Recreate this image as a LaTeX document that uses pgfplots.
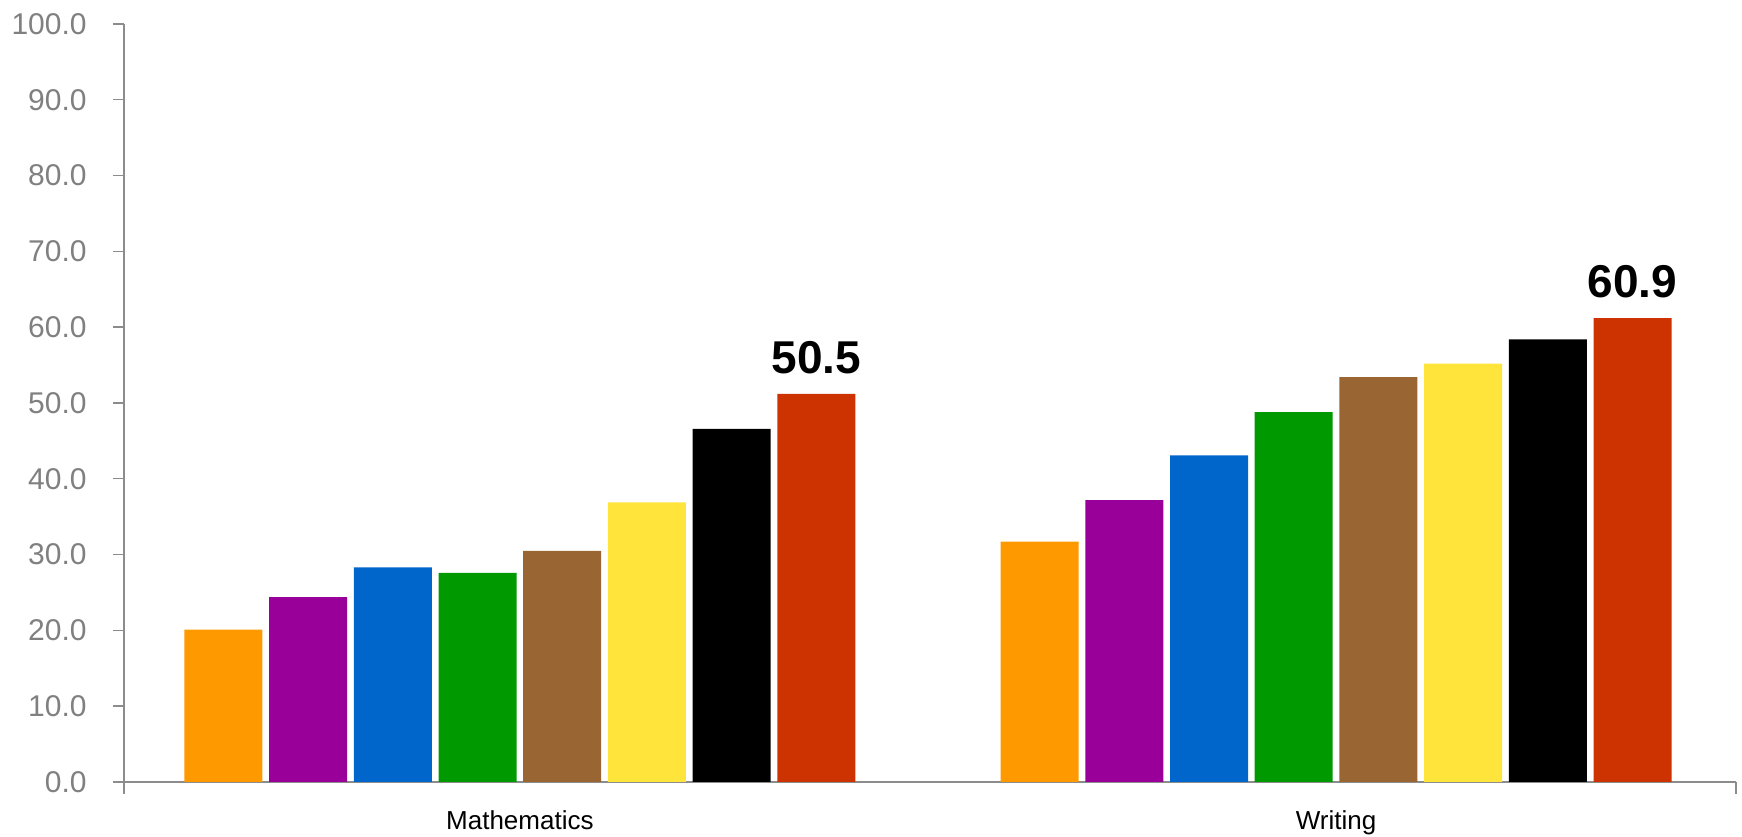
\documentclass[border=0pt]{standalone}
\usepackage{fontspec}
\setmainfont{Liberation Sans}
\usepackage{pgfplots}
\pgfplotsset{compat=1.18}

\definecolor{cOrange}{HTML}{FF9900}
\definecolor{cPurple}{HTML}{990099}
\definecolor{cBlue}{HTML}{0066CC}
\definecolor{cGreen}{HTML}{009900}
\definecolor{cBrown}{HTML}{996633}
\definecolor{cYellow}{HTML}{FFE53B}
\definecolor{cRed}{HTML}{CC3300}
\definecolor{axisgray}{HTML}{8C8C8C}
\definecolor{labelgray}{HTML}{808080}

\begin{document}
\begin{tikzpicture}
\begin{axis}[
    name=ax,
    at={(62bp,27.5bp)}, anchor=south west,
    scale only axis, width=806bp, height=379bp,
    xmin=-0.485, xmax=1.49,
    ymin=0, ymax=100,
    axis lines=left,
    axis line style={-, draw=axisgray, line width=0.7bp},
    ybar=3.35bp, bar width=39bp,
    ytick distance=10,
    tick align=outside,
    major tick length=5.5bp,
    ytick style={draw=axisgray, line width=0.7bp},
    xtick={0,1},
    xticklabels={Mathematics,Writing},
    xtick style={draw=none},
    /pgf/number format/.cd, fixed, fixed zerofill, precision=1, assume math mode=true,
    /pgfplots/.cd,
    yticklabel style={font=\fontsize{15bp}{18bp}\selectfont, text=labelgray,
        anchor=east, inner sep=0pt, xshift=-13bp},
    xticklabel style={font=\fontsize{13bp}{16bp}\selectfont, text=black,
        anchor=north, inner sep=0pt, yshift=-8.8bp},
]
\addplot[fill=cOrange, draw=none] coordinates {(0,20.1) (1,31.7)};
\addplot[fill=cPurple, draw=none] coordinates {(0,24.4) (1,37.2)};
\addplot[fill=cBlue, draw=none] coordinates {(0,28.3) (1,43.1)};
\addplot[fill=cGreen, draw=none] coordinates {(0,27.6) (1,48.8)};
\addplot[fill=cBrown, draw=none] coordinates {(0,30.5) (1,53.4)};
\addplot[fill=cYellow, draw=none] coordinates {(0,36.9) (1,55.2)};
\addplot[fill=black, draw=none] coordinates {(0,46.6) (1,58.4)};
\addplot[fill=cRed, draw=none,
    nodes near coords, point meta=explicit symbolic,
    nodes near coords style={font=\fontsize{23bp}{26bp}\selectfont\bfseries,
        text=black, anchor=south, inner sep=0pt, yshift=10bp}]
    coordinates {(0,51.2)[50.5] (1,61.2)[60.9]};
\end{axis}
% end ticks of the category axis
\draw[axisgray, line width=0.7bp] (ax.south west) -- ++(0,-6bp);
\draw[axisgray, line width=0.7bp] (ax.south east) -- ++(0,-6bp);
\pgfresetboundingbox
\path[use as bounding box] (0,0) rectangle (871bp,418.5bp);
\end{tikzpicture}
\end{document}
